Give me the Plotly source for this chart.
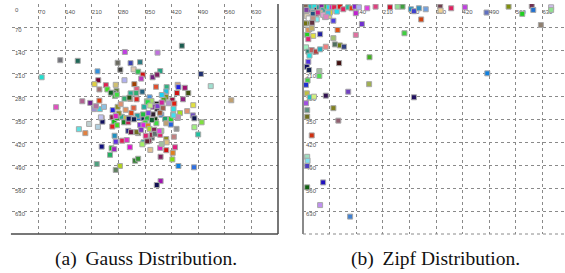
import plotly.graph_objects as go

# ---------------- data ----------------
tick_vals = [0, 70, 140, 210, 280, 350, 420, 490, 560, 630]
tick_text = ["0", "70", "140", "210", "280", "350", "420", "490", "560", "630"]
ytick_text = ["", "70", "140", "210", "280", "350", "420", "490", "560", "630"]

gauss_x = [447, 297, 383, 127, 173, 278, 312, 337, 285, 320, 332, 225, 390, 344, 370, 382, 497, 78, 340, 296,
           227, 217, 247, 273, 322, 230, 251, 275, 328, 379, 407, 436, 438, 455, 523, 327, 343, 406, 434, 464,
           268, 271, 397, 405, 185, 206, 230, 296, 311, 328, 362, 355, 367, 399, 422, 427, 450, 577, 116, 216,
           231, 242, 265, 278, 286, 320, 348, 381, 371, 382, 397, 425, 412, 442, 461, 477, 476, 480, 203, 176,
           193, 226, 236, 238, 264, 269, 276, 264, 270, 277, 289, 300, 295, 306, 306, 313, 333, 346, 355, 351,
           337, 346, 358, 362, 332, 352, 368, 361, 346, 343, 377, 380, 374, 390, 393, 371, 393, 403, 406, 418,
           424, 436, 437, 418, 433, 426, 406, 407, 429, 406, 423, 422, 391, 364, 438, 479, 480, 490, 499, 273,
           290, 302, 236, 262, 269, 310, 258, 223, 284, 273, 324, 332, 391, 381, 260, 276, 312, 394, 309, 357,
           364, 383, 394, 221, 281, 299, 314, 330, 345, 359, 389, 234, 273, 307, 321, 368, 425, 328, 340, 368,
           376, 388, 356, 390, 394]
gauss_y = [127, 146, 148, 171, 173, 179, 180, 177, 200, 199, 206, 205, 204, 215, 223, 215, 213, 223, 227, 232,
           232, 244, 247, 246, 244, 260, 260, 264, 259, 252, 253, 246, 253, 255, 250, 271, 267, 266, 271, 271,
           272, 280, 278, 283, 296, 301, 294, 288, 289, 290, 284, 296, 295, 291, 292, 303, 290, 293, 314, 320,
           320, 313, 323, 313, 305, 316, 313, 304, 313, 320, 317, 320, 302, 332, 326, 308, 339, 348, 365, 381,
           393, 374, 347, 358, 345, 359, 369, 373, 401, 347, 343, 347, 360, 360, 386, 390, 347, 348, 348, 361,
           368, 369, 370, 380, 393, 401, 407, 416, 421, 427, 351, 363, 383, 398, 386, 336, 337, 350, 363, 350,
           337, 347, 344, 367, 380, 404, 411, 421, 436, 445, 453, 473, 465, 444, 493, 497, 375, 397, 360, 419,
           416, 414, 434, 439, 442, 436, 459, 487, 493, 505, 477, 471, 539, 551, 270, 276, 272, 277, 285, 299,
           309, 311, 300, 311, 333, 322, 332, 340, 336, 332, 331, 345, 341, 349, 351, 353, 339, 390, 383, 398,
           395, 387, 418, 438, 426]
gauss_colors = ["#1a5c50", "#c040e0", "#c070e0", "#707078", "#206858", "#6a6a60", "#3a40b0", "#2a7880", "#3a3a38", "#e0c8b0",
                "#30c050", "#3090e0", "#20a080", "#d01010", "#702080", "#802060", "#203070", "#20e0d0", "#c030c0", "#b0b0f0",
                "#700030", "#e0d040", "#e02050", "#d0c070", "#a04000", "#a07070", "#40e020", "#608040", "#e06080", "#e05030",
                "#30b080", "#d0a080", "#2020e0", "#a01070", "#a0e0d0", "#30b070", "#206080", "#20c0e0", "#d01010", "#405010",
                "#204040", "#40c040", "#e020c0", "#809020", "#b06090", "#702090", "#e04010", "#30b070", "#e08040", "#e02020",
                "#4090e0", "#50e030", "#a0e060", "#50a020", "#a01040", "#e02010", "#902080", "#c0a070", "#e050c0", "#a090d0",
                "#40d0e0", "#90c0e0", "#2020e0", "#909020", "#e09070", "#e06040", "#20b0a0", "#202020", "#8020a0", "#302030",
                "#a06050", "#30e0e0", "#b090d0", "#a0e020", "#e09070", "#e0e040", "#7050c0", "#101850", "#c0d0d0", "#60e0e0",
                "#e08040", "#b0d0e0", "#e04010", "#101060", "#802040", "#10c010", "#40e020", "#e02020", "#2090c0", "#20a020",
                "#20b090", "#c0c040", "#108020", "#c02050", "#202080", "#701040", "#2070e0", "#102050", "#20c040", "#40e040",
                "#8030e0", "#e020e0", "#e08020", "#b0e030", "#505010", "#e02070", "#506060", "#802040", "#20a0a0", "#a0f060",
                "#104010", "#40e040", "#802050", "#e02060", "#90e070", "#302030", "#4080e0", "#20a070", "#c0a070", "#20e020",
                "#40e0e0", "#205020", "#c090b0", "#2060e0", "#909090", "#c08080", "#909020", "#e0c080", "#e02080", "#d01010",
                "#e08020", "#80e010", "#802060", "#e0c090", "#1080e0", "#3070e0", "#a0f080", "#20c0a0", "#80e040", "#6030e0",
                "#e02050", "#e030c0", "#101080", "#10c010", "#a020c0", "#e010d0", "#20b060", "#50a080", "#b0d020", "#608060",
                "#308030", "#309030", "#a010b0", "#101050", "#106020", "#40e040", "#20b090", "#20d0f0", "#205010", "#20e040",
                "#c0f080", "#8040d0", "#d020a0", "#b070a0", "#909020", "#e09060", "#e04010", "#20a0a0", "#20c040", "#8040e0",
                "#a05030", "#c0c0f0", "#e020c0", "#101060", "#102050", "#106030", "#40e0f0", "#707020", "#8030c0", "#902040",
                "#607070", "#e040e0", "#602030", "#e020c0", "#a0c0a0"]

zipf_x = [8, 14, 20, 30, 36, 42, 49, 53, 62, 68, 76, 82, 89, 97, 106, 119, 128, 137, 139, 147,
          169, 191, 229, 249, 262, 284, 292, 305, 323, 361, 362, 390, 426, 483, 541, 577, 602, 606, 653, 653,
          311, 626, 8, 10, 16, 27, 36, 45, 58, 69, 71, 36, 8, 17, 80, 155, 14, 23, 91, 11,
          27, 45, 139, 267, 14, 80, 84, 97, 108, 8, 14, 23, 34, 45, 60, 17, 14, 95, 175, 10,
          16, 43, 43, 12, 8, 174, 485, 119, 60, 292, 10, 18, 29, 8, 11, 80, 11, 93, 23, 11,
          12, 11, 53, 11, 45, 124, 9, 26, 39, 53, 66, 15, 26, 61, 6, 24]
zipf_y = [8, 18, 8, 8, 18, 10, 8, 18, 8, 10, 10, 10, 23, 8, 16, 10, 13, 8, 28, 10,
          13, 8, 10, 8, 8, 16, 22, 13, 16, 8, 20, 13, 10, 26, 8, 30, 6, 18, 10, 18,
          47, 64, 26, 37, 44, 26, 30, 26, 40, 37, 26, 47, 59, 57, 51, 61, 79, 74, 79, 94,
          97, 92, 94, 89, 107, 104, 123, 126, 130, 132, 145, 140, 145, 138, 130, 157, 176, 180, 162, 191,
          201, 204, 219, 233, 246, 244, 211, 267, 279, 284, 272, 284, 282, 302, 323, 317, 343, 355, 400, 465,
          477, 493, 543, 558, 612, 647, 18, 30, 26, 33, 28, 44, 44, 39, 59, 57]
zipf_colors = ["#806050", "#6040c0", "#20c0c0", "#20e0e0", "#302040", "#20a0a0", "#8020a0", "#40a0a0", "#20c040", "#20e0f0",
               "#e020c0", "#e02050", "#20e0f0", "#e01010", "#e02060", "#20c0a0", "#e04010", "#8020d0", "#c020d0", "#b0b0f0",
               "#e040e0", "#e04080", "#d01030", "#90e090", "#40a040", "#2090c0", "#4040d0", "#3090c0", "#70a0e0", "#704050",
               "#f0d090", "#e02060", "#c040e0", "#6070c0", "#809010", "#20d020", "#703050", "#2070d0", "#d0c0f0", "#90e090",
               "#d04010", "#908070", "#808070", "#e0d0b0", "#e0b0d0", "#20a0a0", "#802040", "#e0c080", "#e080c0", "#e0d070",
               "#e0e020", "#80f0f0", "#607010", "#708020", "#5040e0", "#7030d0", "#e09050", "#c0b060", "#e05010", "#20d020",
               "#e0e040", "#2020a0", "#e070a0", "#40d040", "#e02070", "#a0c070", "#507060", "#708010", "#304080", "#a0f0c0",
               "#208070", "#c06060", "#b04040", "#20b0c0", "#f08080", "#20e0e0", "#5030e0", "#401010", "#40b020", "#101060",
               "#102050", "#a0c0a0", "#50e050", "#40d040", "#2030d0", "#a0b050", "#1080e0", "#7040c0", "#301050", "#201060",
               "#c0c040", "#20c0c0", "#d0f080", "#a050e0", "#609080", "#808020", "#707020", "#906070", "#d03010", "#a0e0c0",
               "#80e0f0", "#5040c0", "#2010c0", "#106010", "#c090f0", "#4080d0", "#8040a0", "#205080", "#d02080", "#e0a0d0",
               "#40c0e0", "#f8f8f8", "#c09080", "#e080c0", "#707010", "#603040"]

captions = ["(a)\u2009 Gauss Distribution.", "(b)\u2009 Zipf Distribution."]

# ---------------- figure ----------------
fig = go.Figure()

marker_common = dict(symbol="square", size=5, line=dict(width=1, color="#a8a8a8"))

fig.add_trace(go.Scatter(x=gauss_x, y=gauss_y, mode="markers", xaxis="x", yaxis="y",
                         marker=dict(color=gauss_colors, **marker_common), showlegend=False,
                         hoverinfo="x+y"))
fig.add_trace(go.Scatter(x=zipf_x, y=zipf_y, mode="markers", xaxis="x2", yaxis="y2",
                         marker=dict(color=zipf_colors, **marker_common), showlegend=False,
                         hoverinfo="x+y"))

W, H = 565, 273
ybot = (H - 234) / H
ytop = (H - 4) / H

tickfont = dict(family="Liberation Sans", size=6, color="#555555")

xaxis_common = dict(side="top", tickmode="array", tickvals=tick_vals, ticktext=tick_text,
                    showgrid=True, gridcolor="#8a8a8a", griddash="dot", gridwidth=1,
                    zeroline=False, showline=False, ticks="", ticklabelposition="inside right",
                    tickfont=tickfont, layer="below traces", fixedrange=True)
yaxis_common = dict(autorange=False, range=[700, 0], tickmode="array", tickvals=tick_vals, ticktext=ytick_text,
                    showgrid=True, gridcolor="#8a8a8a", griddash="dot", gridwidth=1,
                    zeroline=False, showline=False, ticks="", ticklabelposition="inside",
                    ticklabelshift=-3, ticklabelstandoff=0,
                    tickfont=tickfont, domain=[ybot, ytop], layer="below traces", fixedrange=True)

fig.update_layout(
    width=W, height=H,
    margin=dict(l=0, r=0, t=0, b=0),
    paper_bgcolor="white", plot_bgcolor="white",
    xaxis=dict(domain=[12 / W, 278 / W], range=[0, 700], anchor="y", **xaxis_common),
    yaxis=dict(anchor="x", **yaxis_common),
    xaxis2=dict(domain=[303 / W, 1.0], range=[0, (W - 303) / 0.38], anchor="y2", **xaxis_common),
    yaxis2=dict(anchor="x2", **yaxis_common),
    shapes=[
        # left panel frame (bottom + right solid)
        dict(type="line", xref="x domain", yref="y domain", x0=-0.004, x1=1, y0=0, y1=0,
             line=dict(color="#4a4a4a", width=1.5)),
        dict(type="line", xref="x domain", yref="y domain", x0=1, x1=1, y0=0, y1=1,
             line=dict(color="#4a4a4a", width=1.5)),
        # right panel: solid left edge, dotted bottom
        dict(type="line", xref="x2 domain", yref="y2 domain", x0=0, x1=0, y0=0, y1=1,
             line=dict(color="#8a8a8a", width=2)),
        dict(type="line", xref="x2 domain", yref="y2 domain", x0=0, x1=1, y0=0, y1=0,
             line=dict(color="#8a8a8a", width=1, dash="dot")),
    ],
    annotations=[
        # first top tick label of the left panel (hidden by plotly at the range edge)
        dict(text=tick_text[0], x=tick_vals[0], y=tick_vals[0], xref="x", yref="y",
             showarrow=False, xanchor="left", yanchor="top", xshift=1, yshift=-1,
             font=tickfont),
        dict(text=captions[0], x=146 / W, y=(H - 259) / H, xref="paper", yref="paper",
             showarrow=False, xanchor="center", yanchor="middle",
             font=dict(family="Liberation Serif", size=19.5, color="#111111")),
        dict(text=captions[1], x=435 / W, y=(H - 259) / H, xref="paper", yref="paper",
             showarrow=False, xanchor="center", yanchor="middle",
             font=dict(family="Liberation Serif", size=19.5, color="#111111")),
    ],
)

fig.write_html("out.html", config={"displayModeBar": False, "staticPlot": True},
               post_script="document.body.style.margin='0';document.body.style.overflow='hidden';")
